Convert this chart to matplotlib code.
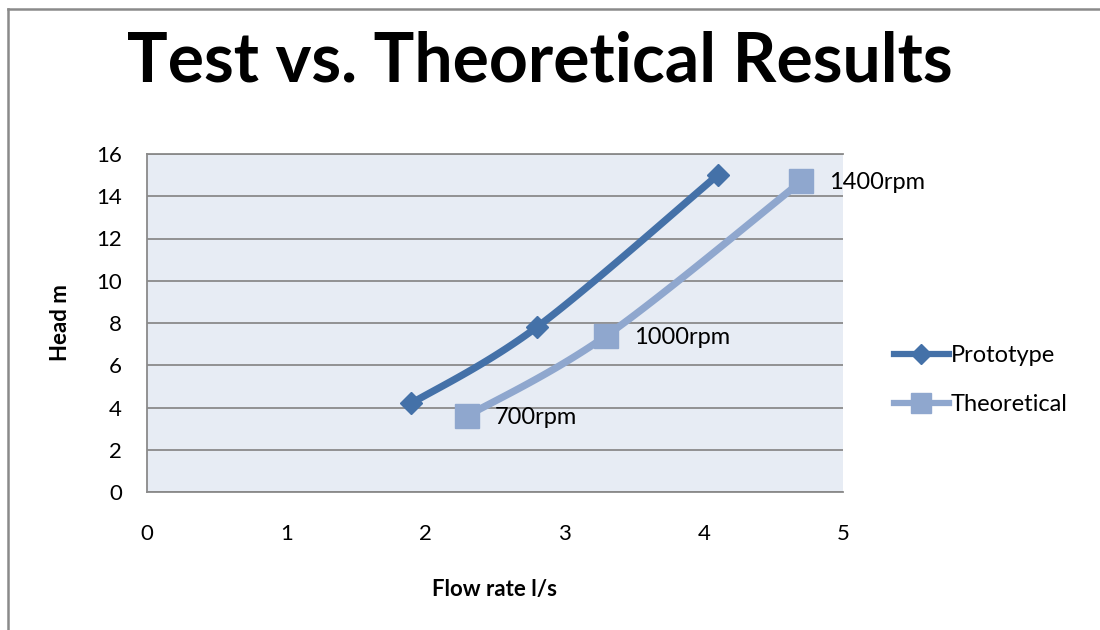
import numpy as np
import matplotlib
matplotlib.use('Agg')
import matplotlib.pyplot as plt
from matplotlib.lines import Line2D

plt.rcParams['font.family'] = ['Lato', 'DejaVu Sans']

# data
proto_x = [1.9, 2.8, 4.1]
proto_y = [4.2, 7.8, 15.0]
theo_x = [2.3, 3.3, 4.7]
theo_y = [3.6, 7.4, 14.7]
theo_labels = ['700rpm', '1000rpm', '1400rpm']
x_ticks = [0, 1, 2, 3, 4, 5]
y_ticks = [0, 2, 4, 6, 8, 10, 12, 14, 16]

c_proto = '#4471A8'
c_theo = '#8FA7CE'


def smooth(xs, ys, n=40):
    # excel-style smoothed line: bezier segments with catmull-rom controls
    p = np.column_stack([xs, ys]).astype(float)
    ext = np.vstack([p[0], p, p[-1]])
    out = []
    for i in range(len(p) - 1):
        p0, p1, p2, p3 = ext[i], ext[i + 1], ext[i + 2], ext[i + 3]
        c1 = p1 + (p2 - p0) / 6
        c2 = p2 - (p3 - p1) / 6
        t = np.linspace(0, 1, n)[:, None]
        seg = ((1 - t) ** 3 * p1 + 3 * (1 - t) ** 2 * t * c1
               + 3 * (1 - t) * t ** 2 * c2 + t ** 3 * p2)
        out.append(seg if i == 0 else seg[1:])
    out = np.vstack(out)
    return out[:, 0], out[:, 1]


fig = plt.figure(figsize=(11, 6.3), dpi=100)
ax = fig.add_axes([147 / 1100, 1 - 492 / 630, 696 / 1100, 338 / 630])
ax.set_facecolor('#E7ECF4')

ax.set_xlim(0, 5)
ax.set_ylim(0, 16)
ax.set_xticks(x_ticks)
ax.set_yticks(y_ticks)
ax.yaxis.grid(True, color='#8A8A8A', linewidth=1.3)
ax.set_axisbelow(True)
ax.tick_params(length=0, labelsize=16)
ax.tick_params(axis='y', pad=18)
ax.tick_params(axis='x', pad=23)
for s in ['left', 'top', 'bottom']:
    ax.spines[s].set_color('#8A8A8A')
    ax.spines[s].set_linewidth(1.3)
ax.spines['right'].set_visible(False)

sx, sy = smooth(proto_x, proto_y)
ax.plot(sx, sy, color=c_proto, lw=5.2, solid_capstyle='round')
ax.plot(proto_x, proto_y, 'D', color=c_proto, ms=11, clip_on=False)

sx, sy = smooth(theo_x, theo_y)
ax.plot(sx, sy, color=c_theo, lw=5.2, solid_capstyle='round')
ax.plot(theo_x, theo_y, 's', color=c_theo, ms=17, clip_on=False)

for x, y, lab in zip(theo_x, theo_y, theo_labels):
    ax.annotate(lab, (x, y), xytext=(20, -1), textcoords='offset points',
                va='center', ha='left', fontsize=17)

ax.set_xlabel('Flow rate l/s', fontsize=16, fontweight='bold', labelpad=25)
ax.set_ylabel('Head m', fontsize=16, fontweight='bold', labelpad=18)

handles = [
    Line2D([], [], color=c_proto, lw=4.5, marker='D', ms=10),
    Line2D([], [], color=c_theo, lw=4.5, marker='s', ms=14),
]
fig.legend(handles, ['Prototype', 'Theoretical'], loc='center left',
           bbox_to_anchor=(873 / 1100, 1 - 380 / 630), frameon=False,
           fontsize=17, handlelength=2.3, handletextpad=0.1,
           labelspacing=1.2)

fig.text(540 / 1100, 1 - 62 / 630, 'Test vs. Theoretical Results',
         ha='center', va='center', fontsize=49, fontweight='bold')

# outer chart border (left and top edges visible)
fig.add_artist(Line2D([8 / 1100, 8 / 1100], [0, 1 - 9 / 630],
                      color='#8A8A8A', lw=1.8))
fig.add_artist(Line2D([8 / 1100, 1], [1 - 9 / 630, 1 - 9 / 630],
                      color='#8A8A8A', lw=1.8))

fig.savefig('out.png', dpi=100)
